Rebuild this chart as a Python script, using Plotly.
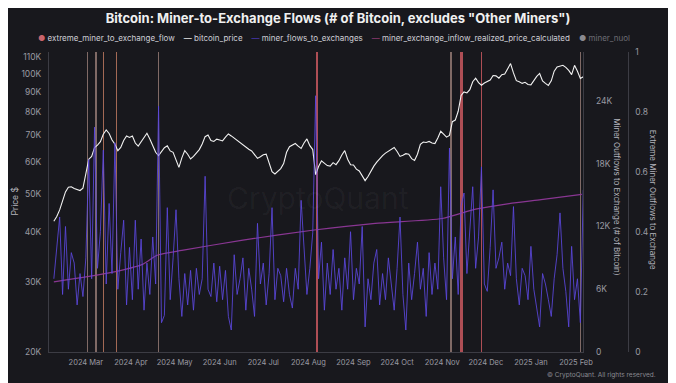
import plotly.graph_objects as go
import pandas as pd

# ---------------- data ----------------
price_start = "2024-02-08"
btc_price_k = [
    42.6, 43.8, 45.5, 48.0, 50.5, 51.9, 52.0, 51.5, 51.2, 50.9,
    51.6, 56.5, 61.0, 62.0, 65.3, 66.2, 67.5, 70.5, 72.3, 70.8,
    68.2, 66.5, 64.1, 65.3, 68.0, 69.8, 69.2, 69.8, 67.0, 65.8,
    67.6, 69.3, 70.9, 68.6, 66.0, 63.5, 62.3, 63.8, 65.2, 65.9,
    64.0, 63.5, 60.5, 58.2, 61.5, 64.1, 62.8, 61.1, 62.0, 63.2,
    64.5, 66.6, 69.5, 70.2, 68.0, 67.6, 68.5, 68.2, 67.8, 69.3,
    70.6, 69.8, 68.9, 68.2, 67.3, 66.5, 65.3, 64.6, 64.0, 62.5,
    61.3, 61.9, 62.6, 62.8, 60.0, 56.8, 56.0, 57.0, 57.8, 59.5,
    63.5, 65.6, 66.3, 66.8, 65.8, 64.9, 67.0, 68.6, 66.0, 64.5,
    55.8, 58.5, 60.4, 59.5, 58.8, 58.6, 59.8, 59.1, 60.5, 62.5,
    64.1, 61.0, 59.1, 59.0, 57.6, 57.0, 55.5, 53.9, 55.2, 57.0,
    58.6, 60.0, 61.2, 62.3, 63.2, 63.8, 64.5, 65.3, 63.8, 62.0,
    62.4, 63.0, 62.8, 61.2, 60.6, 62.8, 66.5, 67.4, 67.2, 67.6,
    67.0, 66.8, 69.0, 71.7, 70.5, 69.3, 70.0, 75.8, 76.5, 80.5,
    88.2, 90.0, 89.5, 91.2, 95.5, 97.5, 95.0, 93.6, 94.8, 95.5,
    96.4, 99.0, 98.8, 97.5, 99.5, 99.8, 102.5, 106.1, 100.5, 96.1,
    95.5, 94.6, 95.2, 94.0, 93.8, 96.5, 98.5, 100.2, 96.0, 94.6,
    93.5, 96.0, 101.5, 104.0, 104.5, 105.0, 103.8, 102.0, 99.5, 105.0,
    101.5, 97.3, 98.3,
]

miner_flows_k = [
    7.0, 9.8, 12.9, 5.5, 12.0, 6.0, 9.5, 8.5, 4.5, 7.5,
    5.3, 9.0, 18.4, 7.0, 21.5, 8.0, 11.5, 19.3, 6.5, 14.2,
    7.5, 20.0, 6.0, 9.5, 12.6, 4.5, 10.0, 5.0, 12.6, 6.0,
    10.8, 4.0, 8.5, 5.5, 11.0, 6.5, 23.5, 2.8, 3.5, 13.8,
    5.0, 9.0, 13.6, 7.0, 3.4, 7.5, 4.5, 7.8, 4.0, 8.0,
    5.5, 7.0, 16.8, 6.0, 5.3, 8.5, 4.8, 8.2, 5.0, 7.8,
    3.4, 2.1, 9.3, 5.5, 7.0, 9.0, 4.0, 8.0, 6.0, 3.4,
    12.3, 6.5, 8.5, 4.5, 7.5, 13.8, 5.0, 8.0, 7.3, 4.8,
    8.0, 5.5, 4.2, 8.0, 6.0, 14.5, 9.8, 5.5, 8.0, 11.4,
    24.5, 7.0, 10.5, 4.0, 8.5, 5.5, 9.8, 6.0, 8.0, 4.0,
    9.0, 6.0, 11.5, 5.0, 8.0, 6.5, 12.0, 2.4, 7.0, 5.0,
    8.5, 9.8, 4.5, 7.5, 5.0, 9.0, 6.5, 4.0, 8.0, 12.9,
    5.5, 2.1, 8.5, 5.0, 7.5, 10.5, 6.0, 8.0, 3.4, 9.5,
    5.5, 8.5, 6.0, 15.8, 9.0, 5.0, 19.5, 7.0, 11.0, 5.5,
    14.0, 15.2, 7.5, 11.5, 15.8, 8.0, 11.0, 17.7, 6.5, 5.8,
    10.0, 15.5, 8.0, 9.0, 10.5, 6.0, 8.5, 7.3, 13.9, 7.0,
    4.5, 8.0, 7.3, 5.0, 10.1, 6.0, 4.0, 2.4, 7.5, 6.5,
    5.0, 3.4, 7.0, 9.3, 13.3, 8.0, 5.8, 2.4, 10.1, 5.0,
    7.0, 2.8, 15.5,
]

realized_dates = ["2024-02-08", "2024-03-17", "2024-04-09", "2024-04-19", "2024-05-06",
                  "2024-06-17", "2024-08-05", "2024-09-16", "2024-11-01", "2024-11-24",
                  "2024-12-17", "2025-01-08", "2025-02-05"]
realized_price_k = [30.0, 31.6, 33.2, 35.0, 36.0, 38.2, 40.5, 42.1, 43.3, 45.7, 47.2, 48.3, 49.8]

extreme_dates = ["2024-03-02", "2024-03-08", "2024-03-13", "2024-03-22", "2024-04-20",
                 "2024-08-07", "2024-11-07", "2024-11-14", "2024-11-28", "2025-02-04"]
extreme_flags = [1, 1, 1, 1, 1, 1, 1, 1, 1, 1]

price_ticks_k = [20, 30, 40, 50, 60, 70, 80, 90, 100, 110]
flow_ticks_k = [0, 6, 12, 18, 24]
extreme_ticks = [0, 0.2, 0.4, 0.6, 0.8, 1]

# ---------------- styles ----------------
BG = "#18181d"
AXIS = "#3c3c44"
TICK = "#9a9aa2"
FONT = "Inter, Roboto, sans-serif"
LIGHT = "rgba(232,188,176,0.5)"
ORNG = "rgba(222,140,110,0.7)"
RED = "rgba(212,92,100,0.8)"
extreme_colors = [LIGHT, LIGHT, ORNG, ORNG, LIGHT, RED, LIGHT, RED, RED, LIGHT]
DAY_MS = 86400000
extreme_widths = [0.8, 0.8, 0.8, 0.8, 0.8, 1.0, 0.8, 2.0, 1.0, 0.8]

price_dates = pd.date_range(price_start, periods=len(btc_price_k), freq="2D")
flow_dates = pd.date_range(price_start, periods=len(miner_flows_k), freq="2D")

fig = go.Figure()

fig.add_trace(go.Bar(
    x=extreme_dates, y=extreme_flags, yaxis="y",
    width=[w * DAY_MS for w in extreme_widths],
    marker=dict(color=extreme_colors, line=dict(width=0)),
    name="extreme_miner_to_exchange_flow", showlegend=False, hoverinfo="x"))

fig.add_trace(go.Scatter(
    x=price_dates, y=[v * 1000 for v in btc_price_k], yaxis="y2", mode="lines",
    line=dict(color="#f2f2f2", width=1.1), name="bitcoin_price"))

fig.add_trace(go.Scatter(
    x=realized_dates, y=[v * 1000 for v in realized_price_k], yaxis="y2", mode="lines",
    line=dict(color="rgba(150,58,160,0.9)", width=1.2, shape="spline", smoothing=0.6),
    name="miner_exchange_inflow_realized_price_calculated"))

fig.add_trace(go.Scatter(
    x=flow_dates, y=[v * 1000 for v in miner_flows_k], yaxis="y3", mode="lines",
    line=dict(color="rgba(92,72,222,0.85)", width=1),
    name="miner_flows_to_exchanges"))

# the page body has an 8px margin, so the figure is drawn 8px right/down of the window origin
OFF = 8
W, H = 676 - OFF, 383 - OFF
ML, MR, MT, MB = 49 - OFF, 5, 52 - OFF, 383 - 352
PW = W - ML - MR
PH = H - MT - MB


def px(xp):
    return (xp - OFF - ML) / PW


def py(yp):
    return (H - MB - (yp - OFF)) / PH


fig.update_layout(
    width=W, height=H,
    margin=dict(l=ML, r=MR, t=MT, b=MB),
    paper_bgcolor=BG, plot_bgcolor=BG,
    showlegend=False, bargap=0, barmode="overlay",
    font=dict(family=FONT, color=TICK),
    title=dict(text='Bitcoin: Miner-to-Exchange Flows (# of Bitcoin, excludes "Other Miners")',
               x=(338 - OFF) / W, xref="container", xanchor="center",
               y=1 - (18 - OFF) / H, yref="container", yanchor="middle",
               font=dict(family=FONT, size=13, color="#f0f0f0", weight="bold")),
    xaxis=dict(domain=[0, px(592)], type="date",
               range=["2024-02-04 16:00", "2025-02-06 00:00"],
               tickformat="%Y %b", dtick="M1", tick0="2024-03-01",
               showgrid=False, zeroline=False, showline=True, linecolor=AXIS, linewidth=1,
               ticks="", ticklabelstandoff=3,
               tickfont=dict(size=7.5, color=TICK)),
    yaxis=dict(range=[0, 1], anchor="free", position=px(637), side="right",
               showgrid=False, zeroline=False, showline=True, linecolor=AXIS,
               tickvals=extreme_ticks, ticktext=[f"{t:g}" for t in extreme_ticks],
               ticks="", ticklabelstandoff=5,
               tickfont=dict(size=8.5, color=TICK)),
    yaxis2=dict(type="log", range=[4.30103, 5.0547], overlaying="y", anchor="x", side="left",
                showgrid=False, zeroline=False, showline=True, linecolor=AXIS,
                tickvals=[t * 1000 for t in price_ticks_k], ticktext=[f"{t}K" for t in price_ticks_k],
                ticks="", ticklabelstandoff=5,
                tickfont=dict(size=8.5, color=TICK)),
    yaxis3=dict(range=[0, 28680], overlaying="y", anchor="x", side="right",
                showgrid=False, zeroline=False, showline=True, linecolor=AXIS,
                tickvals=[t * 1000 for t in flow_ticks_k],
                ticktext=[("0" if t == 0 else f"{t}K") for t in flow_ticks_k],
                ticks="", ticklabelstandoff=10,
                tickfont=dict(size=8.5, color=TICK)),
)

NB = "\u00a0"
legend_text = (
    f"<span style='color:#c8646c'>●</span>{NB}extreme_miner_to_exchange_flow{NB*4}"
    f"<span style='color:#ffffff'>—</span>{NB}bitcoin_price{NB*4}"
    f"<span style='color:#4c3cc0'>—</span>{NB}miner_flows_to_exchanges{NB*4}"
    f"<span style='color:#9a3f7a'>—</span>{NB}miner_exchange_inflow_realized_price_calculated{NB*4}"
    f"<span style='color:#8a8a90'>●</span>{NB}<span style='color:#6c6c74'>miner_nuol</span>"
)

annotations = [
    dict(text=legend_text, x=px(339), y=py(38), xref="paper", yref="paper",
         xanchor="center", yanchor="middle", showarrow=False,
         font=dict(size=8, color="#cfcfd6", family=FONT)),
    dict(text="Price $", x=px(14), y=py(202), xref="paper", yref="paper", textangle=-90,
         xanchor="center", yanchor="middle", showarrow=False,
         font=dict(size=8.5, color="#b4b4bc", family=FONT)),
    dict(text="Miner Outflows to Exchange (# of Bitcoin)", x=px(626), y=py(197),
         xref="paper", yref="paper", textangle=90,
         xanchor="center", yanchor="middle", showarrow=False,
         font=dict(size=8, color="#b4b4bc", family=FONT)),
    dict(text="Extreme Miner Outflows to Exchange", x=px(663), y=py(200),
         xref="paper", yref="paper", textangle=90,
         xanchor="center", yanchor="middle", showarrow=False,
         font=dict(size=8, color="#b4b4bc", family=FONT)),
    dict(text="CryptoQuant", x=px(322), y=py(198), xref="paper", yref="paper",
         xanchor="center", yanchor="middle", showarrow=False,
         font=dict(size=30, color="rgba(255,255,255,0.04)", family=FONT)),
    dict(text="© CryptoQuant. All rights reserved.", x=px(668), y=py(375),
         xref="paper", yref="paper", xanchor="right", yanchor="middle", showarrow=False,
         font=dict(size=6.5, color="#8a8a92", family=FONT)),
]
fig.update_layout(annotations=annotations)

fig.write_html("out.html")
